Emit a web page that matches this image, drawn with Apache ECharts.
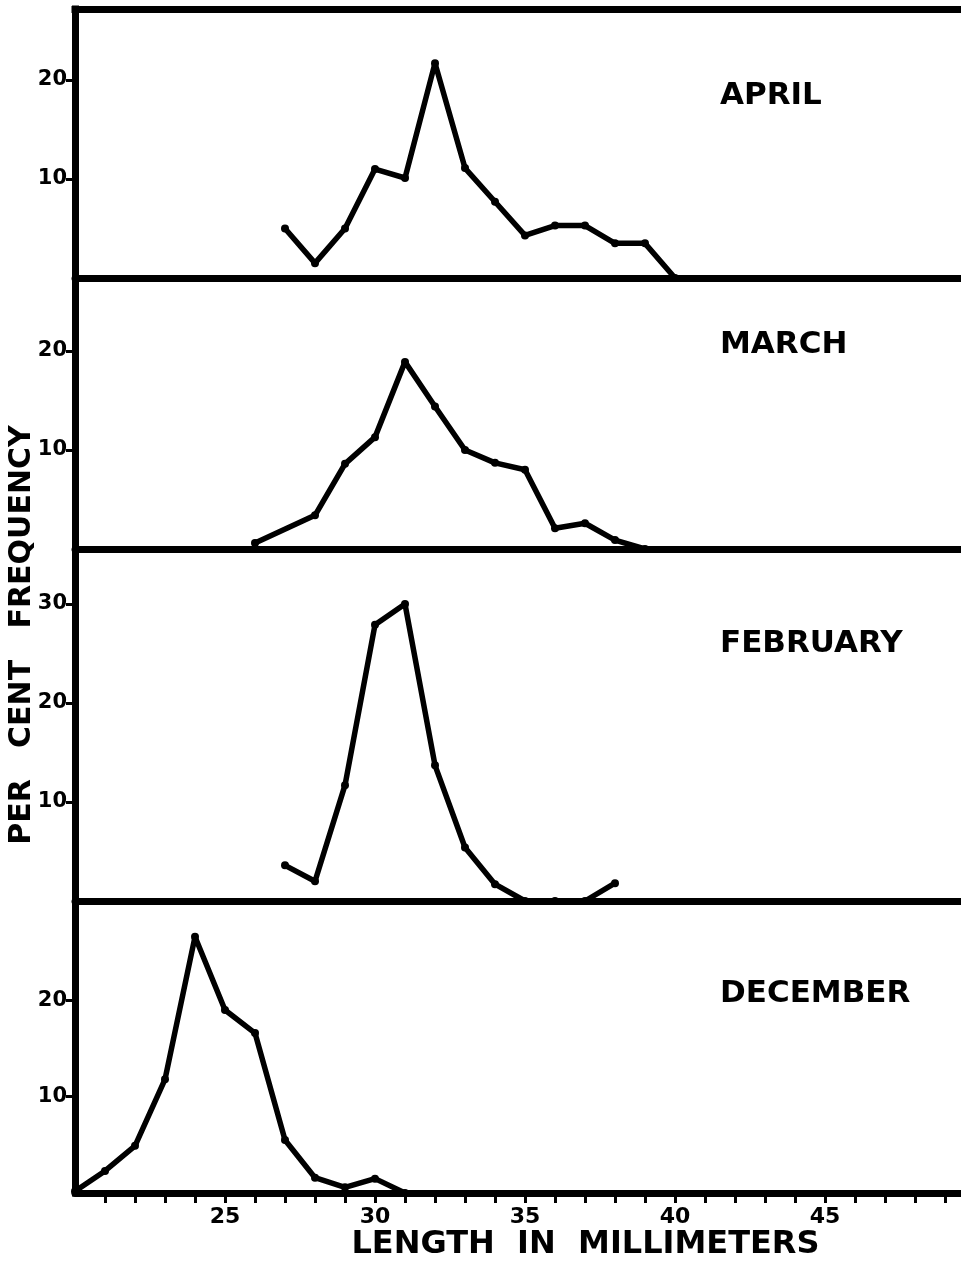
<!DOCTYPE html>
<html><head><meta charset="utf-8">
<script src="https://cdn.jsdelivr.net/npm/echarts@6/dist/echarts.min.js"></script>
<style>html,body{margin:0;padding:0;background:#fff}#c{width:961px;height:1262px}</style>
</head><body><div id="c"></div>
<script>
// ---- data ----
const panelNames = ['APRIL', 'MARCH', 'FEBRUARY', 'DECEMBER'];

const aprilLength = [27, 28, 29, 30, 31, 32, 33, 34, 35, 36, 37, 38, 39, 40];
const aprilFreq   = [5.0, 1.5, 5.0, 11.0, 10.1, 21.7, 11.1, 7.7, 4.3, 5.3, 5.3, 3.5, 3.5, 0];

const marchLength = [26, 28, 29, 30, 31, 32, 33, 34, 35, 36, 37, 38, 39];
const marchFreq   = [0.6, 3.4, 8.6, 11.3, 18.9, 14.4, 10.0, 8.7, 8.0, 2.1, 2.6, 0.9, 0];

const februaryLength = [27, 28, 29, 30, 31, 32, 33, 34, 35, 36, 37, 38];
const februaryFreq   = [3.6, 2.0, 11.7, 27.9, 30.0, 13.7, 5.4, 1.7, 0, 0, 0, 1.8];

const decemberLength = [20, 21, 22, 23, 24, 25, 26, 27, 28, 29, 30, 31];
const decemberFreq   = [0.2, 2.3, 4.9, 11.8, 26.6, 19.0, 16.6, 5.5, 1.6, 0.6, 1.5, 0];

const xTickValues  = [21,22,23,24,25,26,27,28,29,30,31,32,33,34,35,36,37,38,39,40,41,42,43,44,45,46,47,48,49];
const xLabelValues = [25, 30, 35, 40, 45];
const yLabelValues = [[10, 20], [10, 20], [10, 20, 30], [10, 20]];

const xAxisName = 'LENGTH  IN  MILLIMETERS';
const yAxisName = 'PER   CENT   FREQUENCY';

// ---- layout ----
const FONT = 'DejaVu Sans';
const X_MIN = 20, X_MAX = 49.5, PX_PER_MM = 30, LEFT = 75;
const PX_PER_UNIT = 9.9;
const panelBounds = [[9, 278], [278, 549], [549, 901], [901, 1201]]; // [top, zero line] in px
const titleCenters = [97, 346, 645, 995];

const series = [
  [aprilLength, aprilFreq],
  [marchLength, marchFreq],
  [februaryLength, februaryFreq],
  [decemberLength, decemberFreq]
];

const grids = [], xAxes = [], yAxes = [], seriesOpts = [], titles = [];
panelBounds.forEach((b, i) => {
  const h = b[1] - b[0];
  grids.push({left: LEFT, top: b[0], width: (X_MAX - X_MIN) * PX_PER_MM, height: h});
  const last = i === panelBounds.length - 1;
  xAxes.push({
    type: 'value', gridIndex: i, min: X_MIN, max: X_MAX, interval: 1,
    axisLine: {show: true, onZero: false, lineStyle: {color: '#000', width: 7}},
    axisTick: last ? {show: true, customValues: xTickValues, length: 10, lineStyle: {color: '#000', width: 3}} : {show: false},
    axisLabel: last ? {show: true, customValues: xLabelValues, margin: 13, color: '#000',
      fontFamily: FONT, fontWeight: 'bold', fontSize: 22} : {show: false},
    splitLine: {show: false},
    name: last ? xAxisName : '',
    nameLocation: 'middle', nameGap: 29,
    nameTextStyle: {fontFamily: FONT, fontWeight: 'bold', fontSize: 32, color: '#000', padding: [0, 0, 0, 136]}
  });
  yAxes.push({
    type: 'value', gridIndex: i, min: 0, max: h / PX_PER_UNIT,
    axisLine: {show: true, lineStyle: {color: '#000', width: 7, cap: 'square'}},
    axisTick: {show: true, customValues: yLabelValues[i], length: 9, lineStyle: {color: '#000', width: 3}},
    axisLabel: {show: true, customValues: yLabelValues[i], margin: 8, color: '#000',
      fontFamily: FONT, fontWeight: 'bold', fontSize: 21, padding: [0, 0, 6, 0]},
    splitLine: {show: false}
  });
  seriesOpts.push({
    type: 'line', xAxisIndex: i, yAxisIndex: i,
    data: series[i][0].map((x, j) => [x, series[i][1][j]]),
    lineStyle: {color: '#000', width: 5.5, cap: 'round', join: 'round'},
    symbol: 'circle', symbolSize: 8, itemStyle: {color: '#000'},
    clip: false, z: 3
  });
  titles.push({
    text: panelNames[i], left: 720, top: titleCenters[i] - 17, padding: 0,
    textStyle: {fontFamily: FONT, fontWeight: 'bold', fontSize: 31, color: '#000'}
  });
});
// top frame line of the first panel
xAxes.push({
  type: 'value', gridIndex: 0, position: 'top', min: X_MIN, max: X_MAX,
  axisLine: {show: true, onZero: false, lineStyle: {color: '#000', width: 7, cap: 'square'}},
  axisTick: {show: false}, axisLabel: {show: false}, splitLine: {show: false}
});

const chart = echarts.init(document.getElementById('c'), null, {renderer: 'canvas'});
chart.setOption({
  animation: false,
  backgroundColor: '#fff',
  title: titles,
  grid: grids,
  xAxis: xAxes,
  yAxis: yAxes,
  series: seriesOpts,
  graphic: [{
    type: 'text', x: 22, y: 635, rotation: Math.PI / 2,
    style: {text: yAxisName, fontFamily: FONT, fontWeight: 'bold', fontSize: 30, fill: '#000',
      align: 'center', verticalAlign: 'middle'}
  }]
});
</script></body></html>
